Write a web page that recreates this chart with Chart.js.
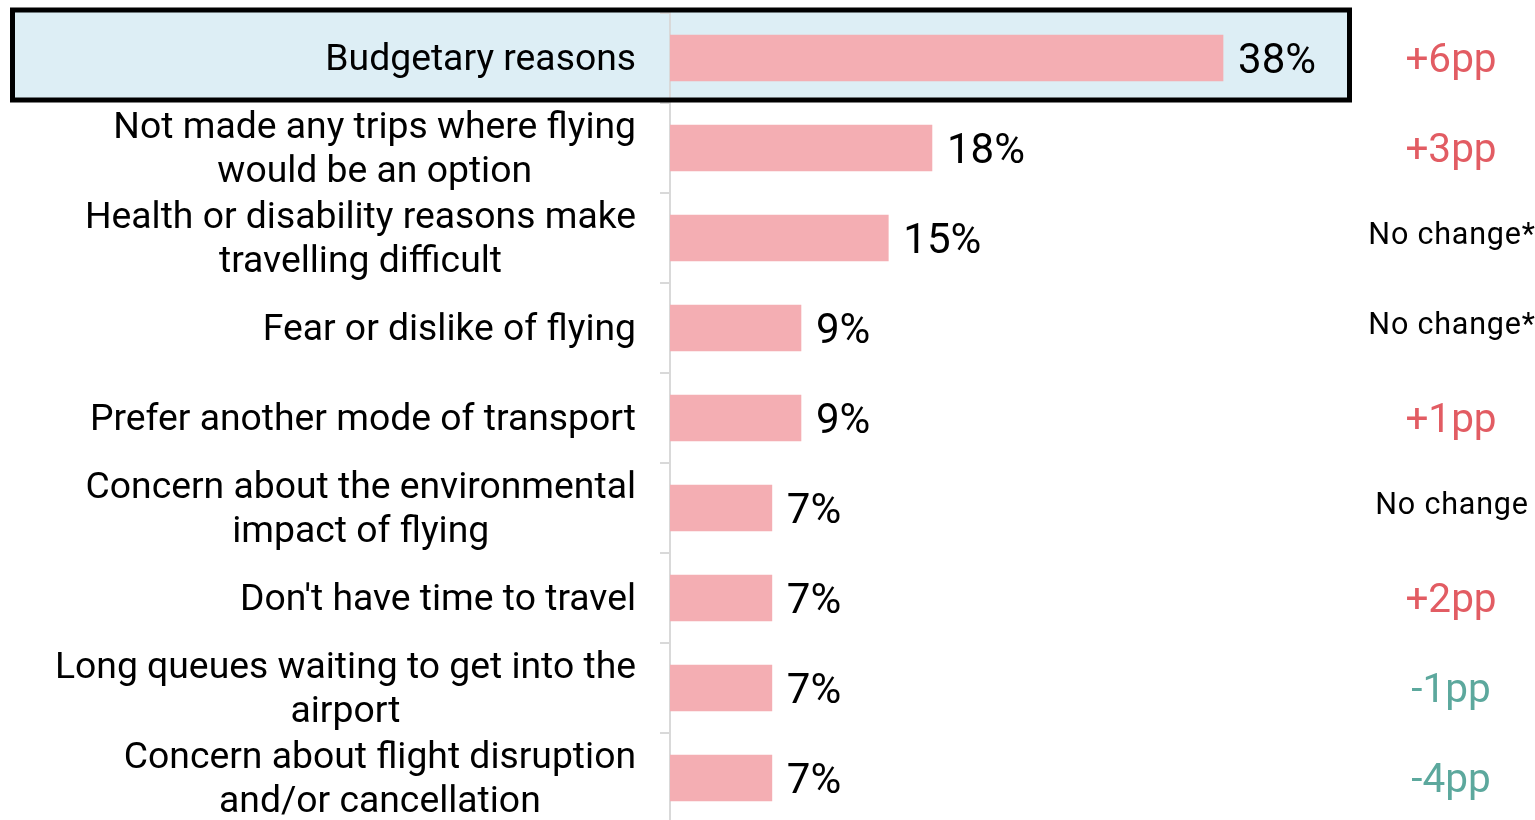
<!DOCTYPE html>
<html>
<head>
<meta charset="utf-8">
<title>Reasons for not flying</title>
<script src="https://cdn.jsdelivr.net/npm/chart.js@4.4.1/dist/chart.umd.min.js"></script>
<style>
html, body { margin: 0; padding: 0; background: #fff; overflow: hidden; }
canvas { display: block; }
</style>
</head>
<body>
<canvas id="reasonsChart" width="1535" height="826"></canvas>
<script>
// reasons, share of respondents (%) and change vs previous wave
const categories = [
    ['Budgetary reasons'],
    ['Not made any trips where flying', 'would be an option'],
    ['Health or disability reasons make', 'travelling difficult'],
    ['Fear or dislike of flying'],
    ['Prefer another mode of transport'],
    ['Concern about the environmental', 'impact of flying'],
    ["Don't have time to travel"],
    ['Long queues waiting to get into the', 'airport'],
    ['Concern about flight disruption', 'and/or cancellation']
];
const shares = [38, 18, 15, 9, 9, 7, 7, 7, 7];
const changes = ['+6pp', '+3pp', 'No change*', 'No change*', '+1pp', 'No change', '+2pp', '-1pp', '-4pp'];
const highlightIndex = 0;

const BAR_PINK = '#f4aeb3';
const UP_RED = '#e25c63';
const DOWN_TEAL = '#5ca89d';
const HIGHLIGHT_BG = '#ddeef5';
const AXIS_GREY = '#d9d9d9';
const FONT = 'Roboto';

function bandInfo(chart) {
    const y = chart.scales.y;
    const step = y.getPixelForValue(1) - y.getPixelForValue(0);
    return { y, step };
}

// light blue row + black frame around the highlighted reason
const highlightRow = {
    id: 'highlightRow',
    beforeDraw(chart) {
        const { y, step } = bandInfo(chart);
        const top = y.getPixelForValue(highlightIndex) - step / 2;
        const ctx = chart.ctx;
        ctx.save();
        ctx.fillStyle = HIGHLIGHT_BG;
        ctx.fillRect(12, top - 3, chart.chartArea.right - 16, step);
        ctx.restore();
    },
    afterDraw(chart) {
        const { y, step } = bandInfo(chart);
        const top = y.getPixelForValue(highlightIndex) - step / 2;
        const ctx = chart.ctx;
        ctx.save();
        ctx.strokeStyle = '#000';
        ctx.lineWidth = 5;
        ctx.strokeRect(12.5, top - 3, chart.chartArea.right - 17, step);
        ctx.restore();
    }
};

// category labels: block right aligned, lines centred inside the block
const categoryLabels = {
    id: 'categoryLabels',
    afterDraw(chart) {
        const ctx = chart.ctx;
        const y = chart.scales.y;
        const right = y.right - 34;
        const lineH = 44;
        ctx.save();
        ctx.font = '37.3px ' + FONT;
        ctx.fillStyle = '#000';
        ctx.textAlign = 'center';
        ctx.textBaseline = 'middle';
        categories.forEach((lines, i) => {
            const w = Math.max(...lines.map(l => ctx.measureText(l).width));
            const cx = right - w / 2;
            const cy = y.getPixelForValue(i);
            const y0 = cy - (lines.length - 1) * lineH / 2;
            lines.forEach((l, j) => ctx.fillText(l, cx, y0 + j * lineH + 3));
        });
        ctx.restore();
    }
};

// percentage at the end of each bar
const valueLabels = {
    id: 'valueLabels',
    afterDatasetsDraw(chart) {
        const ctx = chart.ctx;
        const meta = chart.getDatasetMeta(0);
        ctx.save();
        ctx.font = '42px ' + FONT;
        ctx.fillStyle = '#000';
        ctx.textAlign = 'left';
        ctx.textBaseline = 'middle';
        meta.data.forEach((bar, i) => {
            ctx.fillText(shares[i] + '%', bar.x + 15, bar.y + 4);
        });
        ctx.restore();
    }
};

// change column on the right
const changeLabels = {
    id: 'changeLabels',
    afterDraw(chart) {
        const ctx = chart.ctx;
        const y = chart.scales.y;
        const cx = chart.chartArea.right + 97;
        ctx.save();
        ctx.textAlign = 'center';
        ctx.textBaseline = 'alphabetic';
        changes.forEach((t, i) => {
            const cy = y.getPixelForValue(i);
            if (t.startsWith('+') || t.startsWith('-')) {
                ctx.font = '40.5px ' + FONT;
                ctx.letterSpacing = '0px';
                ctx.fillStyle = t.startsWith('+') ? UP_RED : DOWN_TEAL;
                ctx.fillText(t, cx, cy + 14);
            } else {
                ctx.font = '30.5px ' + FONT;
                ctx.letterSpacing = '0.8px';
                ctx.fillStyle = '#000';
                ctx.fillText(t, cx + 1, cy + 6);
            }
        });
        ctx.restore();
    }
};

function render() {
    const ctx = document.getElementById('reasonsChart').getContext('2d');
    new Chart(ctx, {
        type: 'bar',
        data: {
            labels: categories.map(l => l.join(' ')),
            datasets: [{
                data: shares,
                backgroundColor: BAR_PINK,
                borderWidth: 0,
                barThickness: 46
            }]
        },
        options: {
            indexAxis: 'y',
            responsive: false,
            animation: false,
            devicePixelRatio: 1,
            layout: { padding: { top: 13, right: 181, bottom: 3, left: 0 } },
            plugins: { legend: { display: false }, tooltip: { enabled: false } },
            scales: {
                x: { display: false, min: 0, max: 47 },
                y: {
                    z: 1,
                    ticks: { display: false },
                    grid: {
                        offset: true,
                        drawOnChartArea: false,
                        drawTicks: true,
                        tickLength: 10,
                        color: AXIS_GREY,
                        lineWidth: 2
                    },
                    border: { display: true, color: AXIS_GREY, width: 2 },
                    afterFit(scale) { scale.width = 670; }
                }
            }
        },
        plugins: [highlightRow, categoryLabels, valueLabels, changeLabels]
    });
}

document.fonts.load('37px ' + FONT).then(render, render);
</script>
</body>
</html>
